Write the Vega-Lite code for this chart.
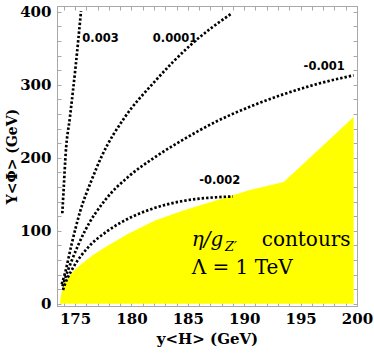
{
  "$schema": "https://vega.github.io/schema/vega-lite/v6.json",
  "width": 300,
  "height": 300,
  "autosize": {"type": "none"},
  "padding": {"left": 57, "top": 6, "right": 17, "bottom": 51},
  "background": "white",
  "config": {
    "view": {"stroke": "#a8a8a8", "strokeWidth": 1},
    "axis": {
      "domainColor": "#a8a8a8",
      "tickColor": "#a8a8a8",
      "grid": false,
      "labelFont": "DejaVu Serif",
      "labelFontWeight": "bold",
      "labelFontSize": 15,
      "labelColor": "black",
      "titleFont": "DejaVu Serif",
      "titleFontWeight": "bold",
      "titleFontSize": 14,
      "titleColor": "black"
    }
  },
  "datasets": {
    "region": [
      {"x": 173.67, "y": 0},
      {"x": 173.7, "y": 7},
      {"x": 173.82, "y": 17},
      {"x": 174.0, "y": 26},
      {"x": 174.4, "y": 36.5},
      {"x": 175.0, "y": 47},
      {"x": 175.59, "y": 55},
      {"x": 176.6, "y": 67},
      {"x": 177.66, "y": 77.6},
      {"x": 179.72, "y": 96},
      {"x": 182.09, "y": 114},
      {"x": 184.6, "y": 128},
      {"x": 187.56, "y": 142},
      {"x": 190.5, "y": 156},
      {"x": 193.5, "y": 167},
      {"x": 199.7, "y": 256}
    ],
    "curves": [
      {"c": "0.003", "x": 173.87, "y": 124},
      {"c": "0.003", "x": 174.0, "y": 160},
      {"c": "0.003", "x": 174.17, "y": 206},
      {"c": "0.003", "x": 174.55, "y": 256},
      {"c": "0.003", "x": 175.05, "y": 325},
      {"c": "0.003", "x": 175.53, "y": 401},
      {"c": "0.0001", "x": 173.82, "y": 27},
      {"c": "0.0001", "x": 174.11, "y": 42},
      {"c": "0.0001", "x": 174.7, "y": 82},
      {"c": "0.0001", "x": 175.44, "y": 126},
      {"c": "0.0001", "x": 176.48, "y": 170},
      {"c": "0.0001", "x": 177.36, "y": 202},
      {"c": "0.0001", "x": 179.43, "y": 256},
      {"c": "0.0001", "x": 181.8, "y": 300},
      {"c": "0.0001", "x": 185.5, "y": 358},
      {"c": "0.0001", "x": 188.9, "y": 398},
      {"c": "-0.001", "x": 173.88, "y": 24},
      {"c": "-0.001", "x": 174.05, "y": 32},
      {"c": "-0.001", "x": 174.7, "y": 59},
      {"c": "-0.001", "x": 175.88, "y": 100},
      {"c": "-0.001", "x": 177.66, "y": 142},
      {"c": "-0.001", "x": 179.72, "y": 174},
      {"c": "-0.001", "x": 182.0, "y": 200},
      {"c": "-0.001", "x": 184.6, "y": 225},
      {"c": "-0.001", "x": 187.56, "y": 250},
      {"c": "-0.001", "x": 190.5, "y": 270},
      {"c": "-0.001", "x": 193.47, "y": 287},
      {"c": "-0.001", "x": 196.43, "y": 301},
      {"c": "-0.001", "x": 199.7, "y": 313},
      {"c": "-0.002", "x": 173.93, "y": 19},
      {"c": "-0.002", "x": 174.11, "y": 27},
      {"c": "-0.002", "x": 174.85, "y": 50},
      {"c": "-0.002", "x": 176.18, "y": 77.6},
      {"c": "-0.002", "x": 177.95, "y": 100.5},
      {"c": "-0.002", "x": 180.02, "y": 119},
      {"c": "-0.002", "x": 181.8, "y": 130},
      {"c": "-0.002", "x": 184.6, "y": 141},
      {"c": "-0.002", "x": 187.56, "y": 146},
      {"c": "-0.002", "x": 189.0, "y": 147}
    ],
    "labels": [
      {"x": 177.26, "y": 359, "t": "0.003"},
      {"x": 183.86, "y": 359, "t": "0.0001"},
      {"x": 197.09, "y": 321, "t": "-0.001"},
      {"x": 187.83, "y": 164.6, "t": "-0.002"}
    ],
    "annotUpright": [
      {"x": 191.55, "y": 78.6, "t": "contours"},
      {"x": 185.34, "y": 41, "t": "Λ = 1 TeV"}
    ],
    "annotItalic": [
      {"x": 185.34, "y": 78.6, "t": "η/g"}
    ],
    "annotSub": [
      {"x": 188.3, "y": 73, "t": "Z′"}
    ]
  },
  "resolve": {"axis": {"x": "independent", "y": "independent"}},
  "layer": [
    {
      "data": {"name": "region"},
      "mark": {"type": "area", "color": "#ffff00", "opacity": 1},
      "encoding": {
        "x": {
          "field": "x", "type": "quantitative",
          "scale": {"domain": [173.4, 200], "nice": false, "zero": false},
          "axis": {
            "orient": "bottom",
            "title": "y<H> (GeV)",
            "titleFontSize": 15,
            "values": [174,175,176,177,178,179,180,181,182,183,184,185,186,187,188,189,190,191,192,193,194,195,196,197,198,199,200],
            "labelExpr": "datum.value % 5 === 0 ? datum.label : ''",
            "tickSize": -4,
            "labelPadding": 9,
            "titlePadding": 5,
            "labelFlush": false
          }
        },
        "y": {
          "field": "y", "type": "quantitative",
          "scale": {"domain": [-3, 408], "nice": false, "zero": false},
          "axis": {
            "orient": "left",
            "title": "Y<Φ> (GeV)",
            "titleX": -45,
            "titleBaseline": "middle",
            "values": [0,20,40,60,80,100,120,140,160,180,200,220,240,260,280,300,320,340,360,380,400],
            "labelExpr": "datum.value % 100 === 0 ? datum.label : ''",
            "tickSize": -4,
            "labelPadding": 10,
            "labelFlush": false
          }
        },
        "y2": {"datum": 0}
      }
    },
    {
      "data": {"name": "curves"},
      "mark": {"type": "line", "color": "black", "strokeWidth": 2.7, "strokeDash": [2.4, 2], "interpolate": "monotone"},
      "encoding": {
        "x": {"field": "x", "type": "quantitative",
          "axis": {"orient": "top", "title": null, "labels": false, "tickSize": -4,
            "values": [174,175,176,177,178,179,180,181,182,183,184,185,186,187,188,189,190,191,192,193,194,195,196,197,198,199,200]}},
        "y": {"field": "y", "type": "quantitative",
          "axis": {"orient": "right", "title": null, "labels": false, "tickSize": -4,
            "values": [0,20,40,60,80,100,120,140,160,180,200,220,240,260,280,300,320,340,360,380,400]}},
        "detail": {"field": "c"}
      }
    },
    {
      "data": {"name": "labels"},
      "mark": {"type": "text", "font": "DejaVu Sans", "fontWeight": "bold", "fontSize": 11.5, "align": "center", "baseline": "alphabetic", "color": "black"},
      "encoding": {
        "x": {"field": "x", "type": "quantitative", "axis": null},
        "y": {"field": "y", "type": "quantitative", "axis": null},
        "text": {"field": "t"}
      }
    },
    {
      "data": {"name": "annotUpright"},
      "mark": {"type": "text", "font": "DejaVu Serif", "fontSize": 20, "align": "left", "baseline": "alphabetic", "color": "black"},
      "encoding": {
        "x": {"field": "x", "type": "quantitative", "axis": null},
        "y": {"field": "y", "type": "quantitative", "axis": null},
        "text": {"field": "t"}
      }
    },
    {
      "data": {"name": "annotItalic"},
      "mark": {"type": "text", "font": "DejaVu Serif", "fontStyle": "italic", "fontSize": 20, "align": "left", "baseline": "alphabetic", "color": "black"},
      "encoding": {
        "x": {"field": "x", "type": "quantitative", "axis": null},
        "y": {"field": "y", "type": "quantitative", "axis": null},
        "text": {"field": "t"}
      }
    },
    {
      "data": {"name": "annotSub"},
      "mark": {"type": "text", "font": "DejaVu Serif", "fontStyle": "italic", "fontSize": 13, "align": "left", "baseline": "alphabetic", "color": "black"},
      "encoding": {
        "x": {"field": "x", "type": "quantitative", "axis": null},
        "y": {"field": "y", "type": "quantitative", "axis": null},
        "text": {"field": "t"}
      }
    }
  ]
}
